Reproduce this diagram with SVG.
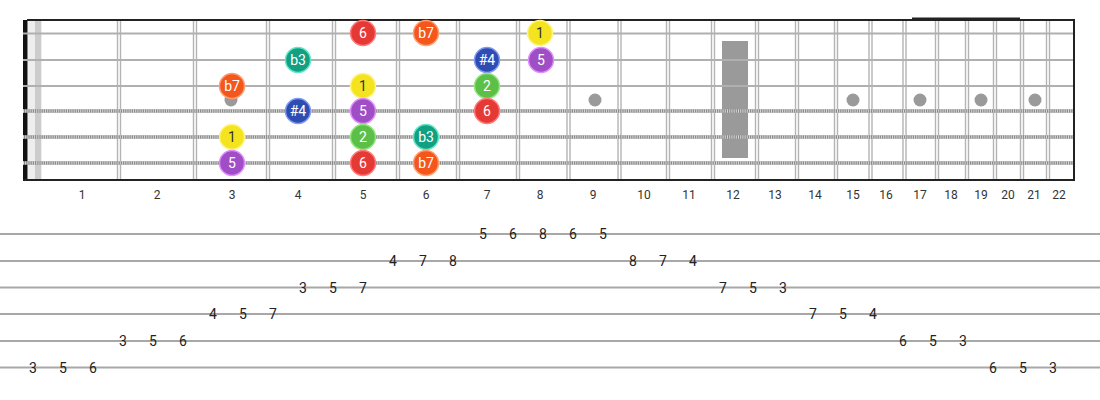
<svg xmlns="http://www.w3.org/2000/svg" width="1100" height="400" viewBox="0 0 1100 400">
<defs>
<style>
.plain{stroke:#b0b0b0;stroke-width:2}
.woundb{stroke:#8a8a8a;stroke-width:3.4}
.woundt{stroke:#d8d8d8;stroke-width:3.4;stroke-dasharray:1 1.2}
.fret{stroke:#b4b4b4;stroke-width:1.4}
.border{stroke:#222;stroke-width:2}
.dot{fill:#9a9a9a}
.flab{font-family:Roboto,"Liberation Sans",sans-serif;font-size:12px;fill:#333;text-anchor:middle}
.tabl{stroke:#a8a8a8;stroke-width:2}
.tab{font-family:Roboto,"Liberation Sans",sans-serif;font-size:14px;fill:#222;text-anchor:middle}
.nt{font-family:Roboto,"Liberation Sans",sans-serif;font-size:14px;fill:#fff;text-anchor:middle}
.ntd{fill:#333}
.red{fill:#e53935;stroke:#ff7a7a;stroke-width:1.5}
.org{fill:#f4561c;stroke:#ff9e70;stroke-width:1.5}
.yel{fill:#f4e41f;stroke:#fff38a;stroke-width:1.5}
.tea{fill:#12a083;stroke:#62e6c6;stroke-width:1.5}
.blu{fill:#2e4db3;stroke:#8199f2;stroke-width:1.5}
.pur{fill:#a04ec6;stroke:#e08cff;stroke-width:1.5}
.grn{fill:#5cbf48;stroke:#92e67e;stroke-width:1.5}
</style>
</defs>
<rect width="1100" height="400" fill="#fff"/>
<g id="fretboard">
<rect x="28" y="21" width="14" height="158" fill="#eeeeee"/>
<rect x="35" y="21" width="6" height="158" fill="#cccccc"/>
<rect x="23" y="20" width="4.5" height="161" fill="#111"/>
<g id="frets">
<g class="fret">
<line x1="117.5" y1="20" x2="117.5" y2="180"/><line x1="120.5" y1="20" x2="120.5" y2="180"/>
<line x1="193.5" y1="20" x2="193.5" y2="180"/><line x1="196.5" y1="20" x2="196.5" y2="180"/>
<line x1="266.5" y1="20" x2="266.5" y2="180"/><line x1="269.5" y1="20" x2="269.5" y2="180"/>
<line x1="332.5" y1="20" x2="332.5" y2="180"/><line x1="335.5" y1="20" x2="335.5" y2="180"/>
<line x1="396.5" y1="20" x2="396.5" y2="180"/><line x1="399.5" y1="20" x2="399.5" y2="180"/>
<line x1="456.5" y1="20" x2="456.5" y2="180"/><line x1="459.5" y1="20" x2="459.5" y2="180"/>
<line x1="516.5" y1="20" x2="516.5" y2="180"/><line x1="519.5" y1="20" x2="519.5" y2="180"/>
<line x1="567" y1="20" x2="567" y2="180"/><line x1="570" y1="20" x2="570" y2="180"/>
<line x1="618" y1="20" x2="618" y2="180"/><line x1="621" y1="20" x2="621" y2="180"/>
<line x1="666.5" y1="20" x2="666.5" y2="180"/><line x1="669.5" y1="20" x2="669.5" y2="180"/>
<line x1="711.5" y1="20" x2="711.5" y2="180"/><line x1="714.5" y1="20" x2="714.5" y2="180"/>
<line x1="755.5" y1="20" x2="755.5" y2="180"/><line x1="758.5" y1="20" x2="758.5" y2="180"/>
<line x1="795.5" y1="20" x2="795.5" y2="180"/><line x1="798.5" y1="20" x2="798.5" y2="180"/>
<line x1="834.5" y1="20" x2="834.5" y2="180"/><line x1="837.5" y1="20" x2="837.5" y2="180"/>
<line x1="869" y1="20" x2="869" y2="180"/><line x1="872" y1="20" x2="872" y2="180"/>
<line x1="903" y1="20" x2="903" y2="180"/><line x1="906" y1="20" x2="906" y2="180"/>
<line x1="935.5" y1="20" x2="935.5" y2="180"/><line x1="938.5" y1="20" x2="938.5" y2="180"/>
<line x1="965.5" y1="20" x2="965.5" y2="180"/><line x1="968.5" y1="20" x2="968.5" y2="180"/>
<line x1="993.5" y1="20" x2="993.5" y2="180"/><line x1="996.5" y1="20" x2="996.5" y2="180"/>
<line x1="1020.5" y1="20" x2="1020.5" y2="180"/><line x1="1023.5" y1="20" x2="1023.5" y2="180"/>
<line x1="1046.5" y1="20" x2="1046.5" y2="180"/><line x1="1049.5" y1="20" x2="1049.5" y2="180"/>
</g>
</g>
<g id="inlays">
<circle class="dot" cx="231" cy="100" r="6.5"/>
<circle class="dot" cx="595" cy="100" r="6.5"/>
<rect class="dot" x="722" y="41" width="26" height="117"/>
<circle class="dot" cx="853" cy="100" r="6.5"/>
<circle class="dot" cx="920" cy="100" r="6.5"/>
<circle class="dot" cx="981" cy="100" r="6.5"/>
<circle class="dot" cx="1035" cy="100" r="6.5"/>
</g>
<g id="strings">
<line class="plain" x1="23" y1="33.5" x2="1074" y2="33.5"/>
<line class="plain" x1="23" y1="60" x2="1074" y2="60"/>
<line class="plain" x1="23" y1="86" x2="1074" y2="86"/>
<line class="woundb" x1="23" y1="111" x2="1074" y2="111"/>
<line class="woundt" x1="23" y1="111" x2="1074" y2="111"/>
<line class="woundb" x1="23" y1="137" x2="1074" y2="137"/>
<line class="woundt" x1="23" y1="137" x2="1074" y2="137"/>
<line class="woundb" x1="23" y1="163" x2="1074" y2="163"/>
<line class="woundt" x1="23" y1="163" x2="1074" y2="163"/>
</g>
<line class="border" x1="27" y1="20" x2="1074" y2="20"/>
<line class="border" x1="912" y1="18.5" x2="1020" y2="18.5" stroke-width="1"/>
<line class="border" x1="23" y1="180" x2="1074" y2="180"/>
<line class="border" x1="1074" y1="19" x2="1074" y2="181"/>
</g>
<g id="fret-numbers" class="flab">
<text x="82" y="199">1</text><text x="157" y="199">2</text><text x="232" y="199">3</text><text x="298" y="199">4</text>
<text x="363" y="199">5</text><text x="426" y="199">6</text><text x="487" y="199">7</text><text x="540" y="199">8</text>
<text x="593" y="199">9</text><text x="644" y="199">10</text><text x="689" y="199">11</text><text x="733" y="199">12</text>
<text x="775" y="199">13</text><text x="815" y="199">14</text><text x="853" y="199">15</text><text x="886" y="199">16</text>
<text x="920" y="199">17</text><text x="951" y="199">18</text><text x="981" y="199">19</text><text x="1008" y="199">20</text>
<text x="1034" y="199">21</text><text x="1059" y="199">22</text>
</g>
<g id="notes">
<g id="n1-5"><circle class="red" cx="363" cy="33" r="12.5"/><text class="nt" x="363" y="38">6</text></g>
<g id="n1-6"><circle class="org" cx="426" cy="33" r="12.5"/><text class="nt" x="426" y="38">b7</text></g>
<g id="n1-8"><circle class="yel" cx="540" cy="33" r="12.5"/><text class="nt ntd" x="540" y="38">1</text></g>
<g id="n2-4"><circle class="tea" cx="298" cy="60" r="12.5"/><text class="nt" x="298" y="65">b3</text></g>
<g id="n2-7"><circle class="blu" cx="487" cy="60" r="12.5"/><text class="nt" x="487" y="65">#4</text></g>
<g id="n2-8"><circle class="pur" cx="541" cy="60" r="12.5"/><text class="nt" x="541" y="65">5</text></g>
<g id="n3-3"><circle class="org" cx="232" cy="86" r="12.5"/><text class="nt" x="232" y="91">b7</text></g>
<g id="n3-5"><circle class="yel" cx="363" cy="86" r="12.5"/><text class="nt ntd" x="363" y="91">1</text></g>
<g id="n3-7"><circle class="grn" cx="487" cy="86" r="12.5"/><text class="nt" x="487" y="91">2</text></g>
<g id="n4-4"><circle class="blu" cx="298" cy="111" r="12.5"/><text class="nt" x="298" y="116">#4</text></g>
<g id="n4-5"><circle class="pur" cx="363" cy="111" r="12.5"/><text class="nt" x="363" y="116">5</text></g>
<g id="n4-7"><circle class="red" cx="487" cy="111" r="12.5"/><text class="nt" x="487" y="116">6</text></g>
<g id="n5-3"><circle class="yel" cx="232" cy="137" r="12.5"/><text class="nt ntd" x="232" y="142">1</text></g>
<g id="n5-5"><circle class="grn" cx="363" cy="137" r="12.5"/><text class="nt" x="363" y="142">2</text></g>
<g id="n5-6"><circle class="tea" cx="426" cy="137" r="12.5"/><text class="nt" x="426" y="142">b3</text></g>
<g id="n6-3"><circle class="pur" cx="232" cy="163" r="12.5"/><text class="nt" x="232" y="168">5</text></g>
<g id="n6-5"><circle class="red" cx="363" cy="163" r="12.5"/><text class="nt" x="363" y="168">6</text></g>
<g id="n6-6"><circle class="org" cx="426" cy="163" r="12.5"/><text class="nt" x="426" y="168">b7</text></g>
</g>
<g id="tab-lines" class="tabl">
<line x1="0" y1="234" x2="1100" y2="234"/>
<line x1="0" y1="261" x2="1100" y2="261"/>
<line x1="0" y1="287.5" x2="1100" y2="287.5"/>
<line x1="0" y1="314" x2="1100" y2="314"/>
<line x1="0" y1="341" x2="1100" y2="341"/>
<line x1="0" y1="367.5" x2="1100" y2="367.5"/>
</g>
<g id="tab-numbers" class="tab">
<text x="483" y="239">5</text><text x="513" y="239">6</text><text x="543" y="239">8</text><text x="573" y="239">6</text><text x="603" y="239">5</text>
<text x="393" y="266">4</text><text x="423" y="266">7</text><text x="453" y="266">8</text><text x="633" y="266">8</text><text x="663" y="266">7</text><text x="693" y="266">4</text>
<text x="303" y="292.5">3</text><text x="333" y="292.5">5</text><text x="363" y="292.5">7</text><text x="723" y="292.5">7</text><text x="753" y="292.5">5</text><text x="783" y="292.5">3</text>
<text x="213" y="319">4</text><text x="243" y="319">5</text><text x="273" y="319">7</text><text x="813" y="319">7</text><text x="843" y="319">5</text><text x="873" y="319">4</text>
<text x="123" y="346">3</text><text x="153" y="346">5</text><text x="183" y="346">6</text><text x="903" y="346">6</text><text x="933" y="346">5</text><text x="963" y="346">3</text>
<text x="33" y="372.5">3</text><text x="63" y="372.5">5</text><text x="93" y="372.5">6</text><text x="993" y="372.5">6</text><text x="1023" y="372.5">5</text><text x="1053" y="372.5">3</text>
</g>
</svg>
